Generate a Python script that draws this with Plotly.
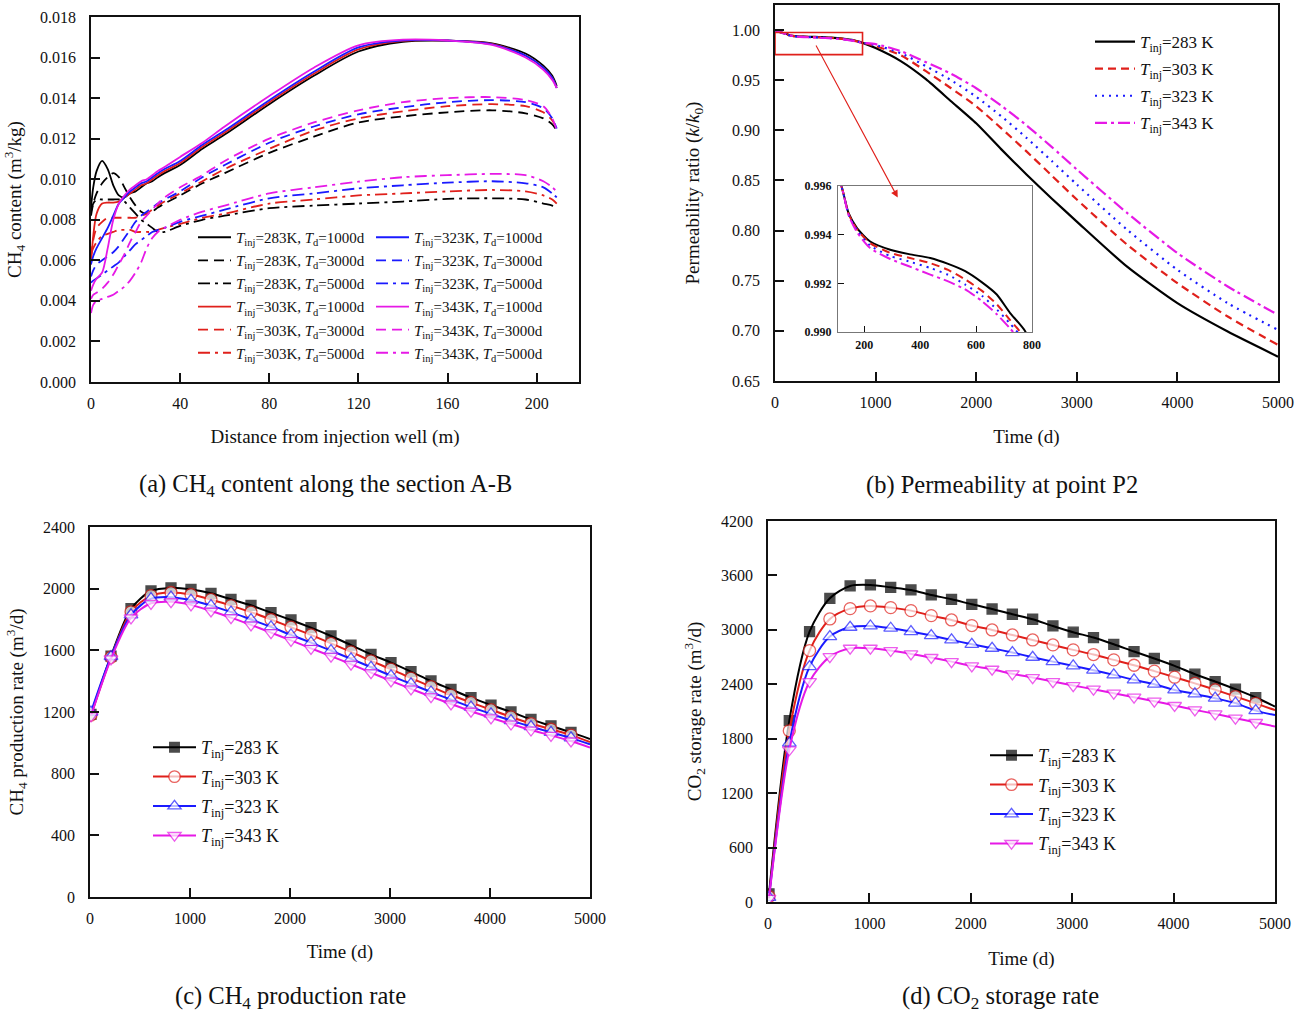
import plotly.graph_objects as go

# ---------------- (a) CH4 content along section A-B ----------------
dist_m = [0, 1, 2.5, 5, 7.5, 10, 12.5, 15, 17.5, 20, 22.5, 25, 27.5, 30, 33,
          40, 50, 60, 80, 100, 120, 140, 160, 180, 195, 203, 207, 209]

ch4_283_1000 = [.0086, .0096, .0104, .0109, .0105, .0097, .0092, .0091, .0093, .0094, .0096, .0098, .0099, .0101, .0103,
                .0107, .0115, .0122, .0137, .0151, .0163, .01678, .01683, .01670, .0162, .0156, .0151, .0146]
ch4_283_3000 = [.0082, .0088, .0093, .0098, .0101, .0103, .0101, .0096, .0091, .0087, .0084, .0083, .0084, .0086, .0088,
                .0092, .0098, .0103, .0113, .0121, .0128, .0131, .0133, .0134, .01325, .0130, .0127, .0124]
ch4_283_5000 = [.0084, .0088, .0090, .0090, .0090, .0090, .0090, .0089, .0086, .0083, .0080, .0078, .0076, .0074, .0074,
                .0077, .0080, .0082, .00857, .0087, .0088, .0089, .00903, .00906, .0090, .0088, .0087, .0086]
ch4_303_1000 = [.0058, .0072, .0083, .0088, .00885, .00885, .0089, .0091, .0093, .0095, .0097, .0098, .0100, .0102, .0104,
                .0108, .0116, .0123, .0138, .0152, .0164, .01682, .01684, .01668, .0161, .0155, .0150, .0145]
ch4_303_3000 = [.0062, .0070, .0076, .0079, .0081, .0081, .0081, .0081, .0081, .0081, .0082, .0083, .0085, .0087, .0089,
                .0093, .0099, .0105, .0115, .0124, .0130, .01335, .0136, .0137, .0136, .0133, .0129, .0125]
ch4_303_5000 = [.0063, .0066, .0069, .0072, .0073, .0074, .0075, .0075, .0075, .0074, .0074, .0074, .0074, .0075, .0076,
                .0078, .0081, .0083, .0088, .0090, .0092, .0093, .0094, .00947, .0094, .0092, .0090, .0088]
ch4_323_1000 = [.0058, .0062, .0066, .0071, .0076, .0082, .0088, .0091, .0094, .0096, .0098, .0099, .0101, .0103, .0105,
                .0109, .0117, .0124, .0139, .0153, .0165, .01685, .01684, .01665, .0161, .0155, .0150, .0145]
ch4_323_3000 = [.0052, .0055, .0058, .0060, .0062, .0064, .0067, .0071, .0075, .0079, .0082, .0084, .0086, .0088, .0090,
                .0094, .0101, .0107, .0118, .0126, .0132, .01355, .0138, .0139, .0138, .0135, .0130, .0125]
ch4_323_5000 = [.0049, .0050, .0051, .0053, .0055, .0057, .0059, .0062, .0065, .0068, .0070, .0072, .0074, .0075, .0076,
                .0079, .0082, .0085, .00906, .0093, .00955, .0097, .00983, .0099, .0098, .0096, .0093, .0091]
ch4_343_1000 = [.0045, .0048, .0051, .0054, .0066, .0080, .0088, .0092, .0095, .0097, .0099, .0100, .0102, .0104, .0106,
                .0111, .0118, .0126, .0141, .0155, .0166, .01688, .01684, .01662, .0160, .0154, .0149, .0145]
ch4_343_3000 = [.0041, .0043, .0044, .0046, .0049, .0053, .0058, .0063, .0069, .0074, .0079, .0082, .0085, .0088, .0091,
                .0096, .0102, .0109, .0120, .0128, .0134, .0138, .0140, .01405, .0139, .0136, .0130, .0124]
ch4_343_5000 = [.0034, .0038, .0040, .0041, .0042, .0043, .0045, .0047, .0050, .0054, .0059, .0066, .0071, .0074, .0076,
                .0080, .0084, .0087, .0093, .0096, .00988, .0101, .0102, .01026, .0102, .0099, .0096, .0094]

# ---------------- (b) permeability ratio at P2 ----------------
time_b = [0, 60, 118, 144, 174, 221, 293, 360, 436, 500, 561, 620, 674, 721, 775, 850,
          1000, 1250, 1500, 1750, 2000, 2250, 2500, 2750, 3000, 3500, 4000, 4500, 5000]
perm_283 = [1.0, .9975, .9960, .99488, .99427, .99372, .99338, .99320, .99304, .99280, .99250, .99205, .99154, .99079,
            .99004, .9880, .9820, .9690, .9510, .9290, .9070, .8810, .8560, .8320, .8090, .7640, .7276, .6993, .6743]
perm_303 = [1.0, .9975, .9960, .99485, .99422, .99365, .99325, .99305, .99283, .99255, .99216, .99170, .99114, .99050,
            .98975, .9878, .9840, .9750, .9590, .9420, .9240, .9020, .8790, .8550, .8310, .7860, .7476, .7143, .6860]
perm_323 = [1.0, .9975, .9960, .99482, .99418, .99355, .99312, .99290, .99263, .99235, .99195, .99150, .99093, .99035,
            .98960, .9877, .9850, .9770, .9640, .9500, .9335, .9140, .8925, .8695, .8460, .8009, .7609, .7276, .7010]
perm_343 = [1.0, .9975, .9960, .99480, .99410, .99345, .99300, .99270, .99236, .99208, .99175, .99128, .99073, .99015,
            .98940, .9876, .9860, .9790, .9680, .9565, .9420, .9245, .9050, .8835, .8610, .8176, .7776, .7443, .7160]

# ---------------- (c) CH4 production rate / (d) CO2 storage rate ----------------
time_cd = [10, 210, 410, 610, 810, 1010, 1210, 1410, 1610, 1810, 2010, 2210, 2410,
           2610, 2810, 3010, 3210, 3410, 3610, 3810, 4010, 4210, 4410, 4610, 4810, 5000]
prod_283 = [1185, 1563, 1870, 1985, 2005, 1995, 1970, 1931, 1892, 1844, 1797, 1747, 1693,
            1634, 1574, 1520, 1462, 1401, 1347, 1293, 1245, 1200, 1152, 1110, 1068, 1025]
prod_303 = [1180, 1555, 1850, 1955, 1975, 1962, 1930, 1890, 1848, 1800, 1750, 1700, 1645,
            1590, 1532, 1478, 1420, 1365, 1310, 1262, 1215, 1168, 1125, 1088, 1050, 1005]
prod_323 = [1200, 1560, 1830, 1935, 1945, 1925, 1890, 1848, 1800, 1752, 1700, 1650, 1598,
            1545, 1490, 1435, 1382, 1330, 1280, 1232, 1188, 1145, 1105, 1068, 1032, 990]
prod_343 = [1175, 1545, 1810, 1905, 1915, 1895, 1855, 1812, 1765, 1715, 1665, 1613, 1562,
            1510, 1455, 1402, 1350, 1300, 1252, 1205, 1162, 1122, 1083, 1048, 1012, 970]

stor_283 = [90, 2000, 2981, 3348, 3484, 3495, 3469, 3440, 3385, 3337, 3282, 3230, 3172,
            3117, 3043, 2974, 2915, 2841, 2761, 2684, 2603, 2511, 2430, 2346, 2254, 2155]
stor_303 = [60, 1887, 2772, 3120, 3234, 3264, 3245, 3212, 3157, 3109, 3047, 2999, 2944,
            2889, 2834, 2779, 2728, 2669, 2610, 2545, 2478, 2410, 2340, 2265, 2190, 2115]
stor_323 = [50, 1751, 2595, 2926, 3029, 3043, 3018, 2981, 2937, 2889, 2841, 2797, 2750,
            2698, 2650, 2603, 2555, 2504, 2449, 2401, 2338, 2294, 2247, 2192, 2110, 2060]
stor_343 = [40, 1678, 2430, 2705, 2797, 2797, 2772, 2735, 2695, 2650, 2603, 2566, 2515,
            2474, 2430, 2386, 2346, 2302, 2258, 2214, 2166, 2118, 2074, 2026, 1979, 1935]

temps = ["283", "303", "323", "343"]

# ---------------- styling ----------------
FONT = "Liberation Serif"
C_BLACK, C_RED, C_BLUE, C_MAG = "#000000", "#e0201b", "#1a1aff", "#e619e6"
colors = [C_BLACK, C_RED, C_BLUE, C_MAG]
DASH = "10px,6px"
DASHDOT = "12px,5px,3px,5px"

fig = go.Figure()

# (a)
series_a = [
    ("283", "1000", ch4_283_1000), ("283", "3000", ch4_283_3000), ("283", "5000", ch4_283_5000),
    ("303", "1000", ch4_303_1000), ("303", "3000", ch4_303_3000), ("303", "5000", ch4_303_5000),
    ("323", "1000", ch4_323_1000), ("323", "3000", ch4_323_3000), ("323", "5000", ch4_323_5000),
    ("343", "1000", ch4_343_1000), ("343", "3000", ch4_343_3000), ("343", "5000", ch4_343_5000),
]
td_dash = {"1000": "solid", "3000": DASH, "5000": DASHDOT}
for t_inj, td, vals in series_a:
    col = colors[temps.index(t_inj)]
    fig.add_trace(go.Scatter(
        x=dist_m, y=vals, mode="lines",
        line=dict(color=col, width=1.8, dash=td_dash[td], shape="spline", smoothing=0.8),
        name=f"<i>T</i><sub>inj</sub>={t_inj}K, <i>T</i><sub>d</sub>={td}d",
        xaxis="x", yaxis="y",
        legend="legend" if t_inj in ("283", "303") else "legend2",
        legendgroup=f"a{t_inj}{td}",
    ))

# (b) main and inset
perm_sets = [perm_283, perm_303, perm_323, perm_343]
perm_dash = ["solid", "8px,5px", "2px,5px", "12px,4px,3px,4px"]
for i, (t_inj, vals) in enumerate(zip(temps, perm_sets)):
    fig.add_trace(go.Scatter(
        x=time_b, y=vals, mode="lines",
        line=dict(color=colors[i], width=2.2, dash=perm_dash[i], shape="spline", smoothing=0.6),
        name=f"<i>T</i><sub>inj</sub>={t_inj} K",
        xaxis="x2", yaxis="y2", legend="legend3", legendgroup=f"b{t_inj}",
    ))
for i, (t_inj, vals) in enumerate(zip(temps, perm_sets)):
    fig.add_trace(go.Scatter(
        x=time_b, y=vals, mode="lines",
        line=dict(color=colors[i], width=2.0, dash=perm_dash[i], shape="spline", smoothing=0.6),
        showlegend=False, xaxis="x5", yaxis="y5",
    ))

# (c) and (d)
symbols = ["square", "circle", "triangle-up", "triangle-down"]
msize = [10, 12, 12, 12]


def marker_sizes(s):
    # markers every 200 d; the closing point at 5000 d carries the line only
    return [s] * (len(time_cd) - 1) + [0]


for axis_pair, sets, leg in ((("x3", "y3"), [prod_283, prod_303, prod_323, prod_343], "legend4"),
                             (("x4", "y4"), [stor_283, stor_303, stor_323, stor_343], "legend5")):
    for i, (t_inj, vals) in enumerate(zip(temps, sets)):
        fill = colors[i] if i == 0 else "white"
        fig.add_trace(go.Scatter(
            x=time_cd, y=vals, mode="lines+markers",
            line=dict(color=colors[i], width=2.0, shape="spline", smoothing=0.8),
            marker=dict(symbol=symbols[i], size=marker_sizes(msize[i]), color=fill,
                        line=dict(color=colors[i], width=1.3)),
            name=f"<i>T</i><sub>inj</sub>={t_inj} K",
            xaxis=axis_pair[0], yaxis=axis_pair[1], legend=leg, legendgroup=f"{leg}{t_inj}",
        ))

# ---------------- axes ----------------
TICK_SIZE = 16


def ax(domain, rng, anchor, **kw):
    d = dict(domain=domain, range=rng, anchor=anchor, showline=True, linecolor="#111",
             linewidth=1.5, mirror=True, ticks="inside", ticklen=9, tickwidth=1.5,
             tickcolor="#111", showgrid=False, zeroline=False, automargin=False,
             tickfont=dict(family=FONT, size=TICK_SIZE, color="#111"))
    d.update(kw)
    return d


title_font = dict(family=FONT, size=19, color="#111")

W, H = 1304, 1012
px = lambda v: v / W
py = lambda v: 1 - v / H

fig.update_layout(
    xaxis=ax([px(91), px(579)], [0, 219], "y", tickvals=[0, 40, 80, 120, 160, 200], ticklabelstandoff=6,
             title=dict(text="Distance from injection well (m)", font=title_font, standoff=19)),
    yaxis=ax([py(382), py(17)], [0, 0.018], "x", dtick=0.002, tick0=0, tickformat=".3f", ticklabelstandoff=10,
             title=dict(text="CH<sub>4</sub> content (m<sup>3</sup>/kg)", font=title_font, standoff=13)),
    xaxis2=ax([px(775), px(1278)], [0, 5000], "y2", dtick=1000, ticklabelstandoff=6,
              title=dict(text="Time (d)", font=title_font, standoff=20)),
    yaxis2=ax([py(381), py(5)], [0.65, 1.025], "x2", ticklabelstandoff=10,
              tickvals=[0.65, 0.70, 0.75, 0.80, 0.85, 0.90, 0.95, 1.00], tickformat=".2f",
              title=dict(text="Permeability ratio (<i>k</i>/<i>k</i><sub>0</sub>)", font=title_font, standoff=27)),
    xaxis3=ax([px(90), px(590)], [0, 5000], "y3", dtick=1000, ticklabelstandoff=6,
              title=dict(text="Time (d)", font=title_font, standoff=19)),
    yaxis3=ax([py(897), py(527)], [0, 2400], "x3", dtick=400, ticklabelstandoff=10,
              title=dict(text="CH<sub>4</sub> production rate (m<sup>3</sup>/d)", font=title_font, standoff=14)),
    xaxis4=ax([px(768), px(1275)], [0, 5000], "y4", dtick=1000, ticklabelstandoff=6,
              title=dict(text="Time (d)", font=title_font, standoff=21)),
    yaxis4=ax([py(902), py(521)], [0, 4200], "x4", dtick=600, ticklabelstandoff=10,
              title=dict(text="CO<sub>2</sub> storage rate (m<sup>3</sup>/d)", font=title_font, standoff=14)),
    xaxis5=ax([px(838), px(1032)], [106, 800], "y5", tickvals=[200, 400, 600, 800],
              linecolor="#777", linewidth=1, ticklen=6, tickwidth=1, ticklabelstandoff=2,
              tickfont=dict(family=FONT, size=12, color="#111", weight="bold")),
    yaxis5=ax([py(332), py(186)], [0.990, 0.996], "x5", tickvals=[0.990, 0.992, 0.994, 0.996],
              tickformat=".3f", linecolor="#777", linewidth=1, ticklen=6, tickwidth=1, ticklabelstandoff=3,
              tickfont=dict(family=FONT, size=12, color="#111", weight="bold")),
)

leg_common = dict(bgcolor="rgba(0,0,0,0)", xanchor="left", yanchor="top",
                  itemclick=False, itemdoubleclick=False)
fig.update_layout(
    legend=dict(x=px(193), y=py(221), itemwidth=33, tracegroupgap=0.6,
                font=dict(family=FONT, size=15, color="#111"), **leg_common),
    legend2=dict(x=px(371), y=py(221), itemwidth=33, tracegroupgap=0.6,
                 font=dict(family=FONT, size=15, color="#111"), **leg_common),
    legend3=dict(x=px(1090), y=py(24), itemwidth=40, tracegroupgap=2,
                 font=dict(family=FONT, size=17, color="#111"), **leg_common),
    legend4=dict(x=px(148), y=py(729), itemwidth=43, tracegroupgap=3,
                 font=dict(family=FONT, size=18, color="#111"), **leg_common),
    legend5=dict(x=px(985), y=py(737), itemwidth=43, tracegroupgap=3,
                 font=dict(family=FONT, size=18, color="#111"), **leg_common),
)

# zoom window marker and arrow on (b)
fig.add_shape(type="rect", xref="x2", yref="y2", x0=0, x1=870, y0=0.9755, y1=0.9975,
              line=dict(color="#e0201b", width=1.6))
fig.add_annotation(x=1220, y=0.833, xref="x2", yref="y2", ax=400, ay=0.986, axref="x2", ayref="y2",
                   text="", showarrow=True, arrowhead=2, arrowsize=1.3, arrowwidth=1.1,
                   arrowcolor="#e0201b")

# panel captions
caption_font = dict(family=FONT, size=24.5, color="#111")
for text, cx, cy in [
    ("(a) CH<sub>4</sub> content along the section A-B", 325, 485),
    ("(b) Permeability at point P2", 1002, 485),
    ("(c) CH<sub>4</sub> production rate", 290, 997),
    ("(d) CO<sub>2</sub> storage rate", 1000, 997),
]:
    fig.add_annotation(x=px(cx), y=py(cy), xref="paper", yref="paper", text=text,
                       showarrow=False, font=caption_font, xanchor="center", yanchor="middle")

fig.update_layout(width=W, height=H, margin=dict(l=0, r=0, t=0, b=0, autoexpand=False),
                  paper_bgcolor="white", plot_bgcolor="white",
                  font=dict(family=FONT, color="#111"))

fig.write_html("out.html")
